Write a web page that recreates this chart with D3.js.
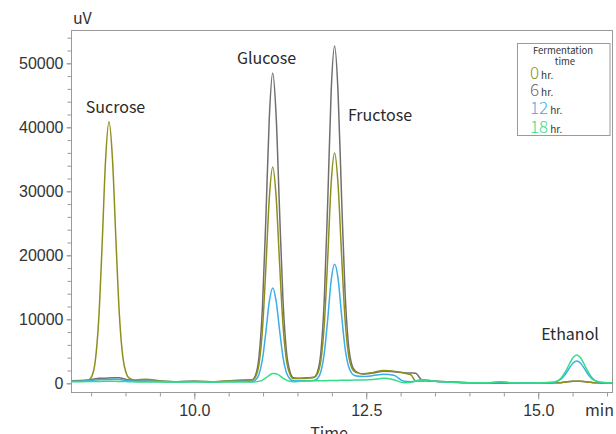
<!DOCTYPE html>
<html>
<head>
<meta charset="utf-8">
<script src="https://cdn.jsdelivr.net/npm/d3@7"></script>
<style>
  body { margin: 0; background: #fff; }
  svg { display: block; font-family: "Noto Sans CJK JP", "Noto Sans", sans-serif; }
  .axis path, .axis line { stroke: #9a9a9a; }
  .axis text { fill: #333; font-size: 16px; }
  .peak-label { fill: #2a2a2a; font-size: 16px; text-anchor: middle; }
</style>
</head>
<body>
<div id="chart"></div>
<script>
// retention time (min)
const times = [
  8.22, 8.35, 8.46, 8.51, 8.56, 8.61, 8.66, 8.71, 8.76, 8.81, 8.86, 8.91, 8.96, 9.01, 9.06,
  9.15, 9.3, 9.5, 9.75, 10.0, 10.25, 10.5, 10.7,
  10.84, 10.89, 10.94, 10.99, 11.04, 11.09, 11.14, 11.19, 11.24, 11.29, 11.34, 11.39, 11.44,
  11.54, 11.64,
  11.74, 11.79, 11.84, 11.89, 11.94, 11.99, 12.04, 12.09, 12.14, 12.19, 12.24, 12.29, 12.34,
  12.45, 12.6, 12.75, 12.9, 13.05, 13.15, 13.22, 13.3, 13.38, 13.5,
  13.75, 14.0, 14.3, 14.45, 14.6, 14.9,
  15.2, 15.26, 15.31, 15.36, 15.41, 15.46, 15.51, 15.56, 15.61, 15.66, 15.71, 15.76, 15.81, 15.86, 15.92, 16.0, 16.08
];

// signal (uV) per fermentation time
const hr0 = [
  350, 350, 470, 1080, 3430, 9830, 21570, 34820, 40850, 35180, 22630, 10880, 4200, 1570, 750,
  500, 650, 400, 250, 300, 250, 400, 500,
  500, 1000, 2940, 8220, 17900, 28820, 33800, 29120, 18770, 9080, 3570, 1400, 730,
  750, 800,
  900, 1450, 3520, 9180, 19550, 31250, 36000, 31100, 20350, 10300, 4620, 2400, 1750,
  1500, 1700, 2000, 1900, 1600, 1300, 350, 350, 400, 300,
  200, 100, 50, 50, 50, 50,
  80, 90, 100, 150, 200, 260, 300, 320, 300, 260, 200, 150, 100, 70, 50, 30, 30
];
const hr6 = [
  400, 420, 500, 600, 700, 780, 800, 800, 820, 850, 880, 850, 750, 600, 500,
  400, 350, 300, 250, 300, 250, 350, 450,
  550, 1270, 4060, 11660, 25600, 41330, 48500, 41770, 26860, 12910, 4970, 1840, 880,
  800, 850,
  960, 1750, 4800, 13130, 28400, 45600, 52700, 45460, 29540, 14640, 6210, 2900, 1920,
  1450, 1600, 1900, 1800, 1650, 1600, 1550, 600, 400, 300,
  200, 100, 50, 50, 50, 50,
  60, 80, 100, 150, 210, 270, 310, 330, 310, 270, 210, 150, 100, 70, 50, 30, 30
];
const hr12 = [
  300, 320, 380, 450, 520, 560, 580, 600, 600, 620, 620, 600, 520, 450, 380,
  320, 300, 280, 250, 280, 230, 280, 300,
  250, 510, 1360, 3680, 7930, 12720, 14900, 12850, 8310, 4060, 1640, 690, 400,
  400, 400,
  450, 730, 1800, 4700, 10030, 16060, 18600, 16400, 10840, 5650, 2730, 1550, 1180,
  1050, 1200, 1400, 1250, 300, 250, 350, 550, 500, 300,
  150, 80, 80, 220, 80, 60,
  140, 250, 485, 940, 1650, 2490, 3200, 3480, 3200, 2490, 1650, 940, 485, 250, 140, 100, 100
];
const hr18 = [
  250, 250, 260, 270, 280, 290, 300, 300, 300, 300, 300, 290, 280, 260, 250,
  220, 200, 200, 180, 220, 180, 200, 200,
  200, 220, 300, 500, 850, 1250, 1520, 1500, 1200, 800, 500, 320, 250,
  300, 350,
  380, 390, 400, 410, 420, 430, 440, 450, 460, 470, 480, 490, 500,
  520, 600, 780, 550, 80, 150, 350, 500, 480, 300,
  150, 80, 100, 250, 100, 60,
  150, 290, 590, 1180, 2080, 3150, 4060, 4420, 4060, 3150, 2080, 1180, 590, 290, 150, 100, 100
];

const seriesNames = ["0", "6", "12", "18"];
const seriesColors = ["#8f8f1c", "#6f6f6f", "#3aaee6", "#33dd88"];
const yMajor = [0, 10000, 20000, 30000, 40000, 50000];
const xMajor = [10.0, 12.5, 15.0];
const peakNames = ["Sucrose", "Glucose", "Fructose", "Ethanol"];

const W = 616, H = 434;
const pLeft = 71.5, pRight = 612.5, pTop = 30.5, pBottom = 392.5;

const svg = d3.select("#chart").append("svg")
    .attr("width", W)
    .attr("height", H);

const x = d3.scaleLinear().domain([8.215, 16.08]).range([pLeft, pRight]);
const y = d3.scaleLinear().domain([-1440, 55125]).range([pBottom, pTop]);

// minor ticks
let yMinor = d3.range(0, 55000, 2000);
let xMinor = d3.range(8.5, 16.01, 0.5);

svg.append("g")
    .attr("class", "axis")
    .attr("transform", "translate(" + pLeft + ",0)")
    .call(d3.axisLeft(y).tickValues(yMinor).tickSize(4).tickFormat(""))
    .call(g => g.select(".domain").remove());

svg.append("g")
    .attr("class", "axis")
    .attr("transform", "translate(" + pLeft + ",0)")
    .call(d3.axisLeft(y).tickValues(yMajor).tickSize(5).tickPadding(3).tickFormat(d3.format("d")))
    .call(g => g.select(".domain").remove());

svg.append("g")
    .attr("class", "axis")
    .attr("transform", "translate(0," + pBottom + ")")
    .call(d3.axisBottom(x).tickValues(xMinor).tickSize(4).tickFormat(""))
    .call(g => g.select(".domain").remove());

svg.append("g")
    .attr("class", "axis")
    .attr("transform", "translate(0," + pBottom + ")")
    .call(d3.axisBottom(x).tickValues(xMajor).tickSize(7).tickPadding(5).tickFormat(d3.format(".1f")))
    .call(g => g.select(".domain").remove());

// frame
svg.append("rect")
    .attr("x", pLeft).attr("y", pTop)
    .attr("width", pRight - pLeft).attr("height", pBottom - pTop)
    .attr("fill", "none")
    .attr("stroke", "#9a9a9a");

svg.append("clipPath").attr("id", "clip")
    .append("rect")
    .attr("x", pLeft).attr("y", pTop)
    .attr("width", pRight - pLeft).attr("height", pBottom - pTop);

// draw order: 6 hr under 0 hr, then 12, 18
const drawOrder = [1, 0, 2, 3];
const allSeries = [hr0, hr6, hr12, hr18];

const line = d3.line()
    .x((d, i) => x(times[i]))
    .y(d => y(d))
    .curve(d3.curveMonotoneX);

const plot = svg.append("g").attr("clip-path", "url(#clip)");
drawOrder.forEach(k => {
    plot.append("path")
        .datum(allSeries[k])
        .attr("fill", "none")
        .attr("stroke", seriesColors[k])
        .attr("stroke-width", 1.5)
        .attr("d", line);
});

// peak names
const peakPos = [[115.5, 112.5], [266.5, 64], [380, 121], [570, 340]];
peakNames.forEach((n, i) => {
    svg.append("text")
        .attr("class", "peak-label")
        .attr("x", peakPos[i][0])
        .attr("y", peakPos[i][1])
        .text(n);
});

// axis titles
svg.append("text").attr("x", 73).attr("y", 24)
    .attr("fill", "#333").attr("font-size", 16).text("uV");
svg.append("text").attr("x", 585).attr("y", 416)
    .attr("fill", "#333").attr("font-size", 16).text("min");
svg.append("text").attr("x", 329).attr("y", 439)
    .attr("fill", "#333").attr("font-size", 16).attr("text-anchor", "middle").text("Time");

// legend
const lg = svg.append("g");
lg.append("rect")
    .attr("x", 517.5).attr("y", 43.5)
    .attr("width", 92.5).attr("height", 92)
    .attr("fill", "#fff")
    .attr("stroke", "#9a9a9a");
lg.append("text").attr("x", 563).attr("y", 53.5)
    .attr("text-anchor", "middle").attr("font-size", 9.5).attr("fill", "#333")
    .text("Fermentation");
lg.append("text").attr("x", 565).attr("y", 65)
    .attr("text-anchor", "middle").attr("font-size", 9.5).attr("fill", "#333")
    .text("time");
const legY = [78.5, 95.5, 114, 132.5];
seriesNames.forEach((n, i) => {
    const t = lg.append("text")
        .attr("x", 530)
        .attr("y", legY[i]);
    t.append("tspan")
        .attr("font-size", 17)
        .attr("font-weight", 300)
        .attr("fill", seriesColors[i])
        .text(n);
    t.append("tspan")
        .attr("font-size", 10)
        .attr("fill", "#333")
        .attr("dx", 2)
        .text("hr.");
});
</script>
</body>
</html>
